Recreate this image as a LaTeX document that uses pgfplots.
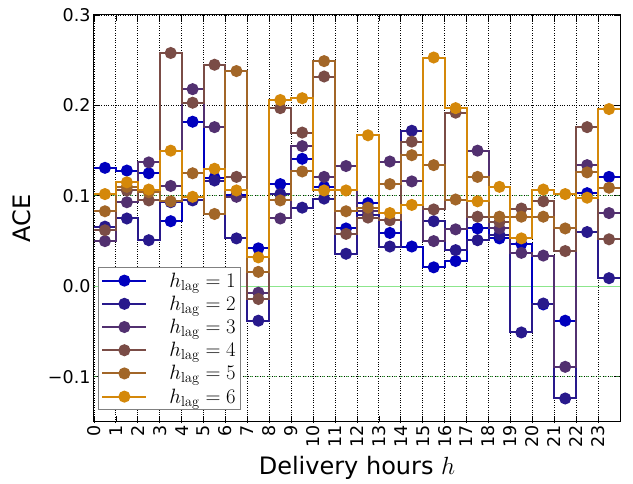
\documentclass[border=0pt]{standalone}
\usepackage[no-math]{fontspec}
\setmainfont{DejaVu Sans}
\usepackage{pgfplots}
\pgfplotsset{compat=1.18}
\usepackage{pgfplotstable}

\definecolor{c1}{RGB}{0,0,190}
\definecolor{c2}{RGB}{40,25,140}
\definecolor{c3}{RGB}{82,48,112}
\definecolor{c4}{RGB}{122,76,70}
\definecolor{c5}{RGB}{162,102,40}
\definecolor{c6}{RGB}{212,136,10}
\definecolor{lgreen}{RGB}{140,230,140}

\pgfplotstableread{
x a b c d e f
0 0.131 0.066 0.050 0.062 0.083 0.102
0.5 0.131 0.066 0.050 0.062 0.083 0.102
1.5 0.128 0.075 0.093 0.106 0.110 0.115
2.5 0.125 0.051 0.137 0.095 0.104 0.107
3.5 0.072 0.093 0.111 0.258 0.094 0.150
4.5 0.182 0.095 0.218 0.203 0.125 0.099
5.5 0.120 0.117 0.176 0.245 0.080 0.130
6.5 0.101 0.053 0.099 0.121 0.238 0.106
7.5 0.042 -0.038 -0.007 -0.014 0.016 0.032
8.5 0.113 0.102 0.075 0.197 0.095 0.206
9.5 0.141 0.087 0.155 0.170 0.127 0.208
10.5 0.110 0.097 0.121 0.232 0.249 0.106
11.5 0.064 0.036 0.133 0.058 0.083 0.106
12.5 0.092 0.079 0.083 0.076 0.087 0.167
13.5 0.059 0.044 0.138 0.073 0.113 0.081
14.5 0.044 0.172 0.116 0.160 0.145 0.090
15.5 0.021 0.072 0.050 0.085 0.134 0.253
16.5 0.028 0.040 0.063 0.192 0.096 0.197
17.5 0.064 0.051 0.150 0.077 0.121 0.094
18.5 0.053 0.057 0.064 0.071 0.077 0.110
19.5 0.047 -0.051 0.037 0.086 0.077 0.053
20.5 -0.020 -0.019 0.034 0.094 0.077 0.107
21.5 -0.038 -0.124 -0.089 0.039 0.064 0.102
22.5 0.103 0.060 0.134 0.176 0.126 0.098
23.5 0.121 0.009 0.081 0.052 0.109 0.196
24 0.121 0.009 0.081 0.052 0.109 0.196
}\data

\begin{document}
\begin{tikzpicture}
\path[use as bounding box] (-94pt,-62pt) rectangle (539pt,422pt);
\begin{axis}[
  at={(0pt,0pt)}, anchor=south west,
  scale only axis, width=526pt, height=407pt,
  xmin=0, xmax=24, ymin=-0.15, ymax=0.3,
  xtick={0,1,2,3,4,5,6,7,8,9,10,11,12,13,14,15,16,17,18,19,20,21,22,23},
  xticklabels={0,1,2,3,4,5,6,7,8,9,10,11,12,13,14,15,16,17,18,19,20,21,22,23},
  ytick={-0.1,0,0.1,0.2,0.3},
  yticklabels={−0.1,0.0,0.1,0.2,0.3},
  tick label style={font=\fontsize{17.5}{20}\selectfont},
  xticklabel style={rotate=90, anchor=east},
  grid=major,
  major grid style={black, dotted, line width=0.9pt},
  axis line style={line width=1pt},
  tick style={black, line width=0.8pt},
  major tick length=6pt,
  xlabel={Delivery hours $h$},
  ylabel={ACE},
  ylabel shift=10pt,
  xlabel shift=2pt,
  label style={font=\fontsize{24}{28}\selectfont},
  legend style={at={(0.0076,0.0295)}, anchor=south west, draw=gray, line width=0.8pt,
    font=\fontsize{20}{23}\selectfont, inner sep=3pt, row sep=3.3pt, column sep=20pt},
  legend cell align=left,
  legend image code/.code={%
    \draw[#1, mark=none] (0pt,0pt) -- (44pt,0pt);
    \fill[#1, mark=none] (22pt,0pt) circle[radius=5pt];},
  every axis plot/.append style={line width=2pt, mark=*, mark size=5pt, mark indices={2,...,25}, const plot mark mid},
]
\addplot[lgreen, line width=1.2pt, forget plot, no marks, sharp plot] coordinates {(0,0) (24,0)};
\addplot[green!50!gray, dashed, line width=1pt, forget plot, no marks, sharp plot, opacity=0.6] coordinates {(0,0.1) (24,0.1)};
\addplot[green!50!gray, dashed, line width=1pt, forget plot, no marks, sharp plot, opacity=0.6] coordinates {(0,-0.1) (24,-0.1)};
\addplot[c1, mark options={solid, fill=c1, draw=c1}] table[x=x, y=a] {\data};
\addlegendentry{$h_{\mathrm{lag}}=1$}
\addplot[c2, mark options={solid, fill=c2, draw=c2}] table[x=x, y=b] {\data};
\addlegendentry{$h_{\mathrm{lag}}=2$}
\addplot[c3, mark options={solid, fill=c3, draw=c3}] table[x=x, y=c] {\data};
\addlegendentry{$h_{\mathrm{lag}}=3$}
\addplot[c4, mark options={solid, fill=c4, draw=c4}] table[x=x, y=d] {\data};
\addlegendentry{$h_{\mathrm{lag}}=4$}
\addplot[c5, mark options={solid, fill=c5, draw=c5}] table[x=x, y=e] {\data};
\addlegendentry{$h_{\mathrm{lag}}=5$}
\addplot[c6, mark options={solid, fill=c6, draw=c6}] table[x=x, y=f] {\data};
\addlegendentry{$h_{\mathrm{lag}}=6$}
\end{axis}
\end{tikzpicture}
\end{document}
